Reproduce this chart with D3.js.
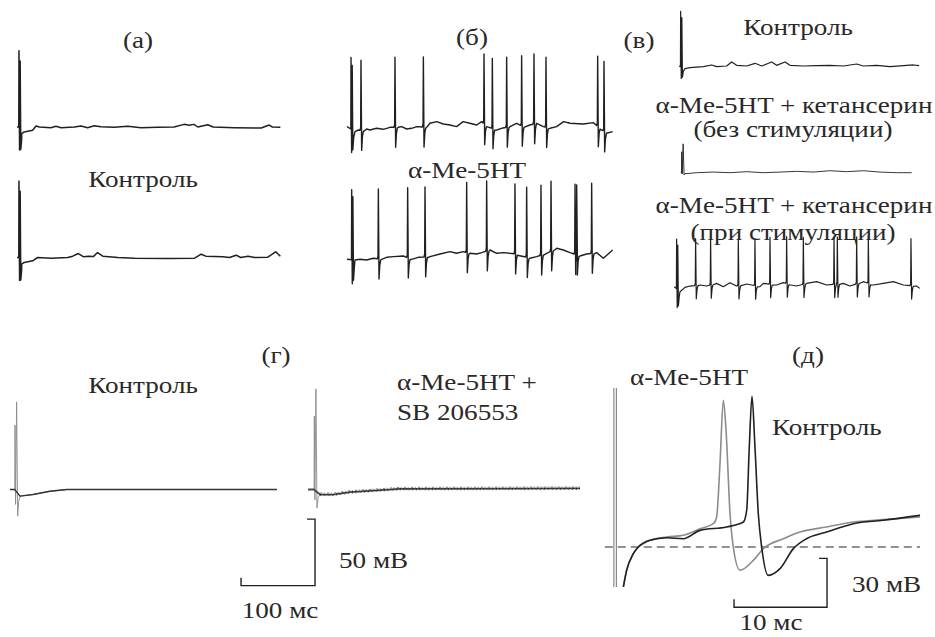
<!DOCTYPE html>
<html>
<head>
<meta charset="utf-8">
<script src="https://cdn.jsdelivr.net/npm/d3@7"></script>
<style>
  body { margin: 0; background: #fff; }
  text { font-family: "Liberation Serif", "Times New Roman", serif; fill: #2b2829; }
</style>
</head>
<body>
<div id="wrapper"></div>
<script>
// ---- data (time in ms, voltage in mV relative to rest) ----

// spike and stimulus-artifact shapes [dt ms, mV] / [dt ms, fraction of top(+) or bottom(-)]
const spikeShape = [[-1.5, 0], [-0.5, 3], [0, 70], [1, -20], [2.2, -6], [3.5, -1]]
const artifactShape = [[-0.3, 0], [0, 1], [0.9, -1], [1.8, 0.9], [2.7, -0.85], [4, -0.3]]
const thinArtifactShape = [[-0.3, 0], [0, 0.72], [0.8, -0.6], [2.2, 1], [3.6, -1], [5, -0.3]]

// (а) control, two sweeps
const aBase1 = [[0, 0], [2.5, 0], [7.1, -6.1], [11, -4.5], [23.7, -3], [28.8, 0.9], [33.8, 0], [51.5, -0.6], [59, 0.6], [66.7, -0.6], [86.9, 0], [97, 0.9], [107, -0.6], [117, 1.2], [127, 0.3], [147, -0.3], [168, 0.6], [188, -0.6], [213, -0.3], [238, 0], [253, 2.4], [261, 1.5], [268, 2.4], [274, 0], [289, 2.1], [297, 0], [329, -0.6], [370, -0.9], [382, 1.8], [387, 0], [399, -0.3]]
const aArtifact1 = [3, 70, -19]
const aBase2 = [[0, 0], [2.5, 0], [7.1, -6.1], [11, -4.5], [23.7, -3], [31.3, 0], [51.5, -0.6], [76.8, 0], [84.4, 1.2], [92.9, 3.6], [101, 0.6], [108, 1.2], [116, 1], [122, 4.5], [130, 1.2], [153, 0], [178, -0.6], [228, -0.9], [269, -0.6], [279, 3], [286, 1.2], [312, 0.6], [322, 0], [332, 2.1], [339, 0], [350, 1.2], [360, 0], [380, 0.3], [392, 5.2], [399, 1.2]]
const aArtifact2 = [3, 70.3, -19]

// (б) α-Me-5HT, two sweeps
const bBase1 = [[0, 1.7], [12.1, -3.3], [17.2, -1.7], [24.7, -2.3], [29.8, -0.7], [34.8, -1.7], [44.9, 0], [55, -1], [65.2, 1], [77.8, 1], [82.8, 1.7], [90.4, -0.7], [98, 0], [105.6, 1.7], [120.7, 1], [125.8, 5], [135.9, 6.7], [146, 4.3], [156, 3.3], [166, 1.7], [176, 6.7], [186, 5], [196.5, 3.3], [204, 6.7], [211.6, 1.7], [226.8, -1.7], [234.3, 0], [247, 1.7], [257, 5], [267, 1.7], [277, 3.3], [287.4, 5], [297.5, 1.7], [307.6, 0], [317.7, 1.7], [328, 6.7], [338, 5], [358, 4.3], [373, 5.7], [393, -5], [402.5, -3.3]]
const bSpikes1 = [21.2, 72.7, 115.7, 207.6, 220.2, 241.9, 264.6, 283.3, 301.5, 379.8, 389.4]
const bArtifact1 = [6.1, 71.7, -23]
const bBase2 = [[0, 0], [12.1, -0.7], [19.7, 0], [29.8, -0.7], [39.9, 1], [52.5, 0], [60.1, 2], [70.2, 2.7], [85.4, 3.3], [98, 0], [108, 2], [125.8, 2.7], [140.9, 5.3], [156, 7.7], [166, 6], [176, 7.7], [186.4, 6], [196.5, 5.3], [204, 6.7], [216.7, 9.3], [226.8, 6], [236.9, 6.7], [257, 5.3], [277, 1], [287.4, 2.7], [302.5, 6], [317.7, 11], [327.8, 9.3], [337.9, 6.7], [353, 3.3], [363, 5.3], [378.3, 6.7], [388.4, 1], [402.5, 9.3]]
const bSpikes2 = [47.5, 91.9, 118.2, 181.3, 211.6, 254.5, 272.2, 293.9, 309.1, 345.5, 348, 370.7]
const bArtifact2 = [7.1, 70, -24]

// (в) control / α-Me-5HT + кетансерин without and with stimulation
const vBase1 = [[0, 0], [9.1, -3.4], [16.7, -2.1], [36.9, -0.8], [49.5, 1.3], [57, -0.8], [72.2, 0], [79.8, 5.1], [87.4, 0.8], [102.5, 0], [115.2, 3.4], [125.3, 0], [140.4, 5.1], [148, 0.8], [160.6, 5.1], [168.2, 0.8], [188.4, 0], [208.6, 0.4], [228.8, 0.8], [249, 0], [269.2, 2.5], [279.3, 0], [299.5, 0.8], [319.7, -0.8], [340, 0.4], [355, 1.3], [364, 0.4]]
const vArtifact1 = [2.5, 70, -14.4]
const vBase2 = [[0, 0], [4, -0.8], [24, 0], [49.5, 0.8], [74.7, 0], [100, 1.3], [125, 0], [150.5, 0.8], [175.8, 1.7], [201, 0.8], [226, 2.5], [251.5, 1.3], [276.8, 2.5], [302, 0.8], [327, 0], [350, 0]]
const vArtifact2 = [1.5, 37.3, -2]
const vBase3 = [[0, 0], [8.6, -7.5], [16.2, -1], [23.7, 1], [38.9, 2.5], [49, 1], [64.1, 5], [74.2, 0], [84.3, 6], [94.4, 1], [109.6, 4], [129.8, 0], [134.8, 5], [155, 2.5], [165.2, 6], [185.4, 1], [200.5, 5], [215.7, 7.5], [230.8, 2.5], [256, 5], [266, 1], [286.4, 7.5], [301.5, 2.5], [316.7, 5], [331.8, 7.5], [347, 2.5], [367, 1], [372, -2.5]]
const vSpikes3 = [32.3, 55, 97, 122.2, 145, 170.2, 195.5, 242, 247, 276.3, 294, 358.6]
const vArtifact3 = [3.5, 74, -27.5]

// (г) averaged responses, control and α-Me-5HT + SB 206553
const gCtrl = [[-6.8, 0], [-0.5, 0], [6.8, -5], [24.3, -3.8], [47.3, -1.3], [70, 0], [354, 0]]
const gArtifactCtrl = [0, 67.7, -17.3]
const gDrug = [[-8.5, 0], [-0.5, 0], [7.7, -3.8], [25.3, -3.8], [48.2, -2], [115.8, 0.5], [359, 0.8]]
const gArtifactDrug = [0, 76.9, -12]
const gSweepSpread = [-0.8, 1.1] // mV, scatter of the overlaid sweeps
const gScaleBar = [100, 50] // ms, mV

// (д) single spikes, α-Me-5HT (grey) and control (black)
const dDrug = [[0.9, -24.5], [1.25, -14.3], [1.97, -4.1], [2.51, 0], [3.05, 2], [3.76, 4.1], [5.56, 6.1], [7.35, 7.2], [9.14, 11.2], [10.57, 14.3], [10.93, 18.4], [11.29, 51.1], [11.65, 90], [11.94, 71.6], [12.37, 20.4], [12.72, 0], [13.44, -14.3], [14.87, -8.2], [15.95, -1], [18.1, 5.1], [19.89, 9.2], [22.76, 12.3], [25.63, 15.3], [28.85, 16.8], [32.8, 18.4]]
const dCtrl = [[0.9, -24.5], [1.25, -14.3], [1.97, -4.1], [2.51, 0], [3.76, 4.1], [5.56, 5.7], [7.35, 5.1], [9.14, 10.2], [12, 12.3], [13.8, 15.3], [14.16, 22.5], [14.44, 61.3], [14.73, 92.4], [15.05, 61.3], [15.41, 20.4], [15.77, 0], [16.49, -17.4], [17.74, -13.3], [19.18, -1], [20.6, 5.1], [22.76, 9.2], [25.63, 14.3], [28.85, 16.4], [32.8, 19.4]]
const dArtifact = [97.5, -24.5]
const dRest = [-1.1, 32.8]
const dScaleBar = [10, 30] // ms, mV

// ---- drawing ----
const width = 935
const height = 637
const TRACE_PX = 0.66   // px per ms, top recordings
const STRETCH = 1.18
const ink = "#231f20"

const svg = d3.select("#wrapper").append("svg")
  .attr("width", width)
  .attr("height", height)

const buildTrace = (base, artifact, spikes = [], shape = artifactShape) => {
  const level = d3.scaleLinear().domain(base.map(d => d[0])).range(base.map(d => d[1])).clamp(true)
  const events = []
  if (artifact) {
    const [t0, hi, lo] = artifact
    events.push(shape.map(([dt, f]) => [t0 + dt, level(t0 + dt) + (f >= 0 ? f * hi : -f * lo)]))
  }
  spikes.forEach(ts => events.push(spikeShape.map(([dt, dv]) => [ts + dt, level(ts + dt) + dv])))
  const inEvent = t => events.some(ev => t >= ev[0][0] && t <= ev[ev.length - 1][0])
  return base.filter(d => !inEvent(d[0])).concat(...events).sort((a, b) => a[0] - b[0])
}

const scalesFor = (x0, yBase, pxPerMs, pxPerMv) => ({
  x: d3.scaleLinear().domain([0, 100]).range([x0, x0 + 100 * pxPerMs]),
  y: d3.scaleLinear().domain([0, 10]).range([yBase, yBase - 10 * pxPerMv])
})

const drawPath = (pts, sc, color, w, curve = d3.curveLinear) => svg.append("path")
  .attr("d", d3.line().curve(curve).x(d => sc.x(d[0])).y(d => sc.y(d[1]))(pts))
  .attr("fill", "none")
  .attr("stroke", color)
  .attr("stroke-width", w)
  .attr("stroke-linejoin", "round")

const label = (txt, x, y, anchor = "middle", size = 23) => svg.append("text")
  .attr("transform", `translate(${x},${y}) scale(${STRETCH},1)`)
  .attr("text-anchor", anchor)
  .attr("font-size", size)
  .text(txt)

// top row recordings
drawPath(buildTrace(aBase1, aArtifact1), scalesFor(17, 127, TRACE_PX, 1.1), ink, 1.5)
drawPath(buildTrace(aBase2, aArtifact2), scalesFor(17, 257.5, TRACE_PX, 1.1), ink, 1.5)
drawPath(buildTrace(bBase1, bArtifact1, bSpikes1), scalesFor(347, 128.3, TRACE_PX, 1.0), ink, 1.4)
drawPath(buildTrace(bBase2, bArtifact2, bSpikes2), scalesFor(347, 259.3, TRACE_PX, 1.0), ink, 1.4)
drawPath(buildTrace(vBase1, vArtifact1), scalesFor(679, 66, TRACE_PX, 0.79), ink, 1.2)
drawPath(buildTrace(vBase2, vArtifact2, [], thinArtifactShape), scalesFor(680.7, 172.7, TRACE_PX, 0.79), ink, 0.9)
drawPath(buildTrace(vBase3, vArtifact3, vSpikes3), scalesFor(674.3, 286.7, TRACE_PX, 0.67), ink, 1.2)

// (г): thin grey stimulus artifact under the darker averaged trace
const gScCtrl = scalesFor(15, 489.5, 0.74, 1.33)
const gScDrug = scalesFor(314.3, 489.5, 0.74, 1.33)
drawPath(buildTrace(gCtrl, gArtifactCtrl, [], thinArtifactShape), gScCtrl, "#8a8a8a", 0.9)
drawPath(gCtrl, gScCtrl, "#333", 1.4)
drawPath(buildTrace(gDrug, gArtifactDrug, [], thinArtifactShape), gScDrug, "#8a8a8a", 0.9)
gSweepSpread.forEach((dv, i) => {
  drawPath(gDrug.slice(2).map(([t, v]) => [t, v + dv]), gScDrug, "#777", 0.9)
    .attr("stroke-dasharray", i ? "2.5,1.5,1,2" : "1.5,2.5")
})
drawPath(gDrug, gScDrug, "#4a4a4a", 1.8)
drawPath(gDrug.slice(2), gScDrug, "#1a1a1a", 1)
  .attr("stroke-dasharray", "1.2,2")

const drawScaleBar = (sc, [ms, mv], cornerT, cornerV, tick) => {
  const cx = sc.x(cornerT), cy = sc.y(cornerV)
  const left = cx - (sc.x(ms) - sc.x(0))
  const top = cy - (sc.y(0) - sc.y(mv))
  svg.append("path")
    .attr("d", `M${cx - tick},${top}H${cx}V${cy}H${left}V${cy - tick}`)
    .attr("fill", "none")
    .attr("stroke", ink)
    .attr("stroke-width", 1.4)
}
drawScaleBar(gScDrug, gScaleBar, 1, -72.3, 8)

// (д)
const dSc = scalesFor(615, 547, 9.3, 1.63)
svg.append("line")
  .attr("x1", dSc.x(dRest[0])).attr("x2", dSc.x(dRest[1]))
  .attr("y1", dSc.y(0)).attr("y2", dSc.y(0))
  .attr("stroke", "#6d6d6d").attr("stroke-width", 1.4).attr("stroke-dasharray", "8,5")
;[-0.12, 0.15].forEach(t => {
  svg.append("line")
    .attr("x1", dSc.x(t)).attr("x2", dSc.x(t))
    .attr("y1", dSc.y(dArtifact[0])).attr("y2", dSc.y(dArtifact[1]))
    .attr("stroke", "#8a8a8a").attr("stroke-width", 1.2)
})
drawPath(dDrug, dSc, "#8c8c8c", 1.6, d3.curveMonotoneX)
drawPath(dCtrl, dSc, ink, 1.6, d3.curveMonotoneX)
drawScaleBar(dSc, dScaleBar, 22.8, -37, 8)

// labels
label("(а)", 138, 48)
label("Контроль", 143, 187)
label("(б)", 472, 45)
label("α-Me-5HT", 467, 178)
label("(в)", 639, 48)
label("Контроль", 798, 35)
label("α-Me-5HT + кетансерин", 794, 113)
label("(без стимуляции)", 793, 137)
label("α-Me-5HT + кетансерин", 794, 213)
label("(при стимуляции)", 793, 240)
label("(г)", 276, 363)
label("Контроль", 143, 393)
label("α-Me-5HT +", 397, 390, "start")
label("SB 206553", 397, 420, "start")
label("50 мВ", 339, 568, "start")
label("100 мс", 280, 618)
label("(д)", 808, 363)
label("α-Me-5HT", 689, 385)
label("Контроль", 772, 435, "start")
label("30 мВ", 852, 592, "start")
label("10 мс", 771, 630)
</script>
</body>
</html>
